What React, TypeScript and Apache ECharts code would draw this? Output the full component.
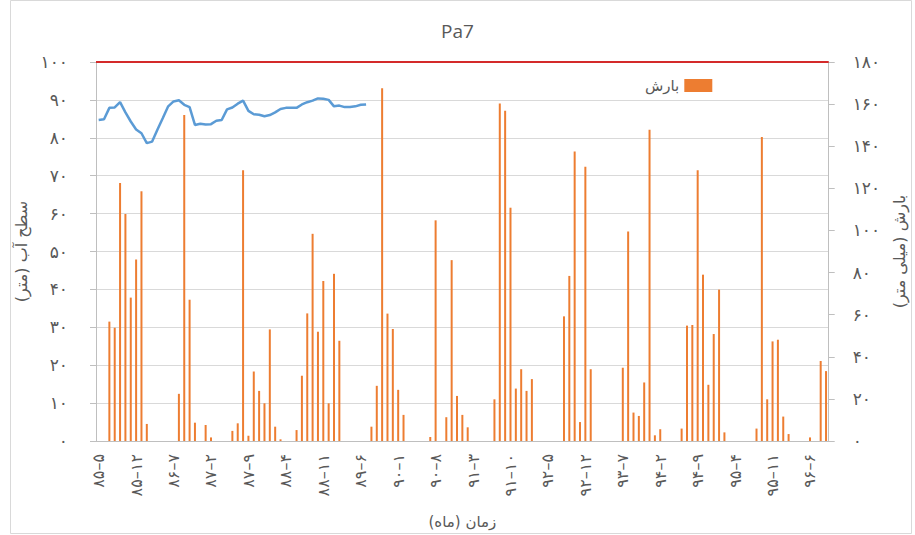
import React, { useEffect, useRef } from "react";
import * as echarts from "echarts";

const FA_DIGITS = "۰۱۲۳۴۵۶۷۸۹";
const fa = (s: string | number) => String(s).replace(/\d/g, (d) => FA_DIGITS[+d]);

// Months from 85-5 (Persian calendar), 137 monthly categories
const START_YEAR = 85;
const START_MONTH = 5;
const MONTH_COUNT = 137;
const months: string[] = [];
for (let k = 0; k < MONTH_COUNT; k++) {
  const t = START_MONTH - 1 + k;
  months.push(`${START_YEAR + Math.floor(t / 12)}-${(t % 12) + 1}`);
}

// Monthly rainfall (mm), right axis
const rainfall: number[] = [
  0, 0, 56.7, 53.8, 122.5, 107.8, 68.1, 86.2, 118.6, 8.1,
  0, 0, 0, 0, 0, 22.4, 154.8, 67.1, 8.7, 0,
  7.6, 1.7, 0, 0, 0, 4.8, 8.4, 128.6, 2.5, 33,
  23.8, 17.9, 53, 6.8, 0.8, 0, 0, 5.2, 31, 60.6,
  98.4, 51.9, 76, 17.9, 79.4, 47.6, 0, 0, 0, 0,
  0, 6.8, 26.2, 167.5, 60.5, 53.2, 24.3, 12.4, 0, 0,
  0, 0, 1.9, 104.8, 0, 11.3, 85.9, 21.4, 12.4, 6.5,
  0, 0, 0, 0, 19.8, 160.3, 156.8, 110.8, 24.9, 34.1,
  23.8, 29.4, 0, 0, 0, 0, 0, 59.2, 78.4, 137.5,
  9.0, 130.2, 34.1, 0, 0, 0, 0, 0, 34.8, 99.5,
  13.5, 11.9, 27.8, 147.8, 2.7, 5.6, 0, 0, 0, 5.9,
  54.8, 55.1, 128.6, 79, 26.7, 50.8, 71.9, 4.1, 0, 0,
  0, 0, 0, 5.9, 144.4, 19.8, 47.3, 48.1, 11.6, 3.3,
  0, 0, 0, 1.7, 0, 38, 33.2,
];

// Water level (m), left axis — measured from 85-5 to 89-7
const waterLevel: number[] = [
  84.7, 84.9, 87.9, 88.0, 89.4, 86.7, 84.3, 82.2, 81.2, 78.6,
  79.0, 82.2, 85.2, 88.3, 89.6, 89.9, 88.7, 88.1, 83.4, 83.7,
  83.5, 83.6, 84.5, 84.7, 87.5, 88.0, 89.0, 89.8, 87.1, 86.2,
  86.1, 85.7, 86.0, 86.7, 87.6, 87.9, 87.9, 87.9, 88.8, 89.4,
  89.8, 90.4, 90.3, 90.0, 88.3, 88.5, 88.1, 88.1, 88.3, 88.7,
  88.8,
];

const groundLevel = 100;

const TEXT = "#595959";
const FONT = "DejaVu Sans";

export default function App() {
  const ref = useRef<HTMLDivElement>(null);
  useEffect(() => {
    if (!ref.current) return;
    const chart = echarts.init(ref.current, undefined, { renderer: "svg" });
    chart.setOption({
      animation: false,
      backgroundColor: "#ffffff",
      title: {
        text: "Pa7",
        left: "center",
        top: 16,
        textStyle: { fontSize: 19, fontWeight: "normal", color: TEXT, fontFamily: "Open Sans" },
      },
      legend: {
        data: ["بارش"],
        left: 640,
        top: 73,
        itemWidth: 28,
        itemHeight: 13,
        itemGap: 5,
        align: "right",
        icon: "rect",
        textStyle: { fontSize: 15, color: TEXT, fontFamily: FONT },
      },
      graphic: [
        {
          type: "rect",
          shape: { x: 10.5, y: 0.5, width: 901, height: 533 },
          style: { fill: "none", stroke: "#d9d9d9", lineWidth: 1 },
          silent: true,
        },
      ],
      grid: { left: 96, right: 79, top: 62, bottom: 94 },
      xAxis: {
        type: "category",
        data: months,
        boundaryGap: true,
        axisLine: { lineStyle: { color: "#bfbfbf", width: 1 } },
        axisTick: { show: false },
        axisLabel: {
          interval: 6,
          rotate: 90,
          formatter: (v: string) => fa(v).replace("-", "–"),
          color: TEXT,
          fontSize: 16,
          margin: 13,
          fontFamily: FONT,
        },
        name: "زمان (ماه)",
        nameLocation: "middle",
        nameGap: 73,
        nameTextStyle: { fontSize: 15, color: TEXT, fontFamily: FONT },
      },
      yAxis: [
        {
          type: "value",
          min: 0,
          max: 100,
          interval: 10,
          position: "left",
          axisLine: { show: true, lineStyle: { color: "#bfbfbf" } },
          axisTick: { show: true, length: 6, lineStyle: { color: "#bfbfbf" } },
          splitLine: { show: true, lineStyle: { color: "#d9d9d9", width: 1 } },
          axisLabel: {
            formatter: (v: number) => fa(v),
            margin: 28,
            color: TEXT,
            fontSize: 17,
            fontFamily: FONT,
          },
          name: "سطح آب (متر)",
          nameLocation: "middle",
          nameRotate: 90,
          nameGap: 61,
          nameTextStyle: { fontSize: 16, color: TEXT, fontFamily: FONT },
        },
        {
          type: "value",
          min: 0,
          max: 180,
          interval: 20,
          position: "right",
          axisLine: { show: true, lineStyle: { color: "#bfbfbf" } },
          axisTick: { show: true, length: 6, lineStyle: { color: "#bfbfbf" } },
          splitLine: { show: false },
          axisLabel: {
            formatter: (v: number) => fa(v),
            margin: 24,
            color: TEXT,
            fontSize: 17,
            fontFamily: FONT,
          },
          name: "بارش (میلی متر)",
          nameLocation: "middle",
          nameRotate: 90,
          nameGap: 62,
          nameTextStyle: { fontSize: 16, color: TEXT, fontFamily: FONT },
        },
      ],
      series: [
        {
          name: "بارش",
          type: "bar",
          yAxisIndex: 1,
          data: rainfall,
          barWidth: 2,
          itemStyle: { color: "#ED7D31" },
        },
        {
          name: "سطح آب",
          type: "line",
          yAxisIndex: 0,
          data: waterLevel,
          symbol: "none",
          smooth: false,
          lineStyle: { color: "#5B9BD5", width: 2.5 },
          itemStyle: { color: "#5B9BD5" },
          markLine: {
            silent: true,
            symbol: "none",
            label: { show: false },
            lineStyle: { color: "#D42A2A", width: 2, type: "solid" },
            data: [{ yAxis: groundLevel }],
          },
        },
      ],
    });
    return () => chart.dispose();
  }, []);
  return (
    <div
      ref={ref}
      style={{ position: "absolute", left: 0, top: 0, width: 915, height: 535 }}
    />
  );
}
